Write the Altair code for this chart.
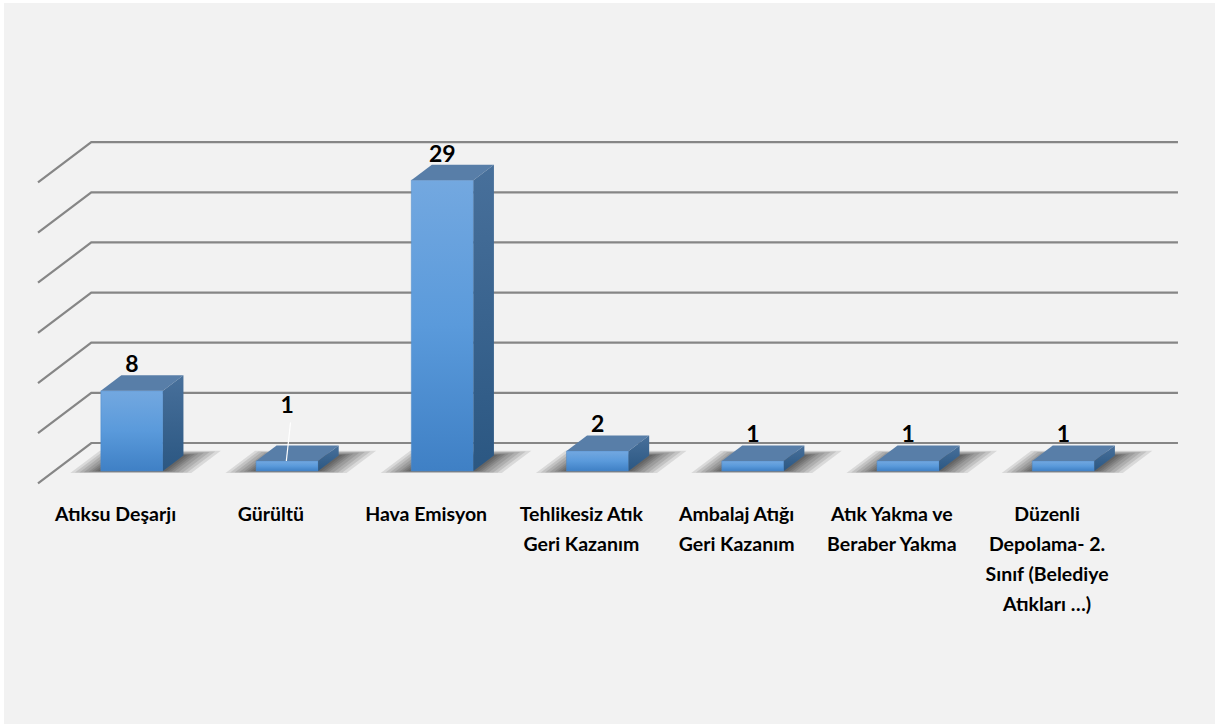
import altair as alt
import pandas as pd

# ---- data ----
categories = [
    "Atıksu Deşarjı",
    "Gürültü",
    "Hava Emisyon",
    "Tehlikesiz Atık\nGeri Kazanım",
    "Ambalaj Atığı\nGeri Kazanım",
    "Atık Yakma ve\nBeraber Yakma",
    "Düzenli\nDepolama- 2.\nSınıf (Belediye\nAtıkları …)",
]
values = [8, 1, 29, 2, 1, 1, 1]
grid_values = [0, 5, 10, 15, 20, 25, 30]

# ---- 3-D projection settings (oblique) ----
A = 0.3433   # x shift (category units) for full depth
B = 4.018    # y shift (value units) for full depth
Z0, Z1 = 0.305, 0.69   # bar depth range
BX0, BX1 = 0.30, 0.70  # bar extent inside band
N = len(categories)

xs = alt.Scale(domain=[-0.2448, 7.6076], nice=False, zero=False)
ys = alt.Scale(domain=[-24.0, 48.19], nice=False, zero=False)

# gridlines (left wall diagonal + back wall horizontal)
grid_rows = []
for g in grid_values:
    pts = [(0, g), (A, g + B), (N + A, g + B)]
    for k, (px, py) in enumerate(pts):
        grid_rows.append({"g": g, "k": k, "x": px, "y": py})
grid_df = pd.DataFrame(grid_rows)


def para_rows(key, x0, x1, za, zb, yb):
    """parallelogram lying in a horizontal plane at value yb, depth za..zb"""
    ya, yz = yb + B * za, yb + B * zb
    return [
        {"key": key, "x": x0 + A * za, "y": ya, "y2": ya},
        {"key": key, "x": x0 + A * zb, "y": yz, "y2": ya},
        {"key": key, "x": x1 + A * za, "y": yz, "y2": ya},
        {"key": key, "x": x1 + A * zb, "y": yz, "y2": yz},
    ]


shadow_steps = [(0.20, 0.05, 0.20), (0.17, 0.04, 0.17), (0.14, 0.035, 0.14), (0.11, 0.03, 0.11),
                (0.08, 0.02, 0.08), (0.06, 0.015, 0.06), (0.04, 0.01, 0.04), (0.02, 0.005, 0.02)]

front_rows, top_rows, side_rows, shadow_rows, lab_rows, cat_rows = [], [], [], [], [], []
for i, (c, v) in enumerate(zip(categories, values)):
    x0, x1 = i + BX0, i + BX1
    front_rows.append({"c": c, "x": x0 + A * Z0, "x2": x1 + A * Z0, "y": B * Z0, "y2": v + B * Z0})
    top_rows += para_rows(c, x0, x1, Z0, Z1, v)
    side_rows += [
        {"key": c, "x": x1 + A * Z0, "y": v + B * Z0, "y2": B * Z0},
        {"key": c, "x": x1 + A * Z1, "y": v + B * Z1, "y2": B * Z1},
    ]
    for s, (eu, ezf, ezb) in enumerate(shadow_steps):
        shadow_rows += para_rows(f"{c}-{s}", x0 - eu * 0.9, x1 + eu, max(Z0 - ezf, 0.0), Z1 + ezb * 0.6, 0)
    lab_rows.append({"c": c, "label": str(v), "x": i + 0.5 + A * Z0, "y": v + B * Z1, "lift": i == 1})
    cat_rows.append({"c": c, "x": i + 0.5, "y": 0})

front_df = pd.DataFrame(front_rows)
top_df = pd.DataFrame(top_rows)
side_df = pd.DataFrame(side_rows)
shadow_df = pd.DataFrame(shadow_rows)
lab_df = pd.DataFrame(lab_rows)
cat_df = pd.DataFrame(cat_rows)

# leader line for the moved label (Gürültü)
lead_df = pd.DataFrame([
    {"k": 0, "x": 1 + 0.5 + A * Z0 + 0.022, "y": values[1] + B * Z1 + 2.3},
    {"k": 1, "x": 1 + 0.5 + A * Z0 - 0.005, "y": values[1] + B * Z0},
])

bg = alt.Chart(pd.DataFrame({"a": [0]})).mark_rect(color="#F2F2F2").encode(
    x=alt.value(4), x2=alt.value(1215), y=alt.value(3), y2=alt.value(724)
)

grid = alt.Chart(grid_df).mark_line(color="#868686", strokeWidth=2.2).encode(
    x=alt.X("x:Q", scale=xs, axis=None),
    y=alt.Y("y:Q", scale=ys, axis=None),
    detail="g:N",
    order="k:Q",
)

shadow = alt.Chart(shadow_df).mark_area(color="#000000", opacity=0.1, interpolate="linear").encode(
    x=alt.X("x:Q", scale=xs, axis=None),
    y=alt.Y("y:Q", scale=ys, axis=None, stack=None),
    y2="y2:Q",
    detail="key:N",
)

front = alt.Chart(front_df).mark_rect(
    color=alt.Gradient(
        gradient="linear",
        stops=[alt.GradientStop(color="#73A8E0", offset=0),
               alt.GradientStop(color="#5A9ADB", offset=0.5),
               alt.GradientStop(color="#3F80C5", offset=1)],
        x1=0, x2=0, y1=0, y2=1,
    ),
    stroke="#4F8ACB", strokeWidth=0.5,
).encode(
    x=alt.X("x:Q", scale=xs, axis=None), x2="x2:Q",
    y=alt.Y("y:Q", scale=ys, axis=None), y2="y2:Q",
)

top = alt.Chart(top_df).mark_area(color="#587EA8", interpolate="linear").encode(
    x=alt.X("x:Q", scale=xs, axis=None),
    y=alt.Y("y:Q", scale=ys, axis=None, stack=None),
    y2="y2:Q",
    detail="key:N",
)

side = alt.Chart(side_df).mark_area(
    color=alt.Gradient(
        gradient="linear",
        stops=[alt.GradientStop(color="#48709B", offset=0),
               alt.GradientStop(color="#2B5782", offset=1)],
        x1=0, x2=0, y1=0, y2=1,
    ),
    interpolate="linear",
).encode(
    x=alt.X("x:Q", scale=xs, axis=None),
    y=alt.Y("y:Q", scale=ys, axis=None, stack=None),
    y2="y2:Q",
    detail="key:N",
)

lead = alt.Chart(lead_df).mark_line(color="#FFFFFF", strokeWidth=1.2).encode(
    x=alt.X("x:Q", scale=xs, axis=None),
    y=alt.Y("y:Q", scale=ys, axis=None),
    order="k:Q",
)

label_font = dict(font="Lato", fontWeight="bold", fontSize=23, color="#000000",
                  align="center", baseline="alphabetic")
labels = alt.Chart(lab_df).transform_filter("!datum.lift").mark_text(dy=-3, **label_font).encode(
    x=alt.X("x:Q", scale=xs, axis=None),
    y=alt.Y("y:Q", scale=ys, axis=None),
    text="label:N",
)
labels_lift = alt.Chart(lab_df).transform_filter("datum.lift").mark_text(dy=-32, **label_font).encode(
    x=alt.X("x:Q", scale=xs, axis=None),
    y=alt.Y("y:Q", scale=ys, axis=None),
    text="label:N",
)

cats = alt.Chart(cat_df).mark_text(
    font="Lato", fontWeight="bold", fontSize=19.5, color="#000000",
    align="center", baseline="alphabetic", lineBreak="\n", lineHeight=30, dy=38,
).encode(
    x=alt.X("x:Q", scale=xs, axis=None),
    y=alt.Y("y:Q", scale=ys, axis=None),
    text="c:N",
)

chart = alt.layer(bg, grid, shadow, front, top, side, lead, labels, labels_lift, cats).properties(
    width=1219, height=724,
    autosize=alt.AutoSizeParams(type="none"),
    padding=0,
    background="#FFFFFF",
).configure_view(stroke=None)

chart.save("out.html", embed_options={"renderer": "svg", "actions": False})
